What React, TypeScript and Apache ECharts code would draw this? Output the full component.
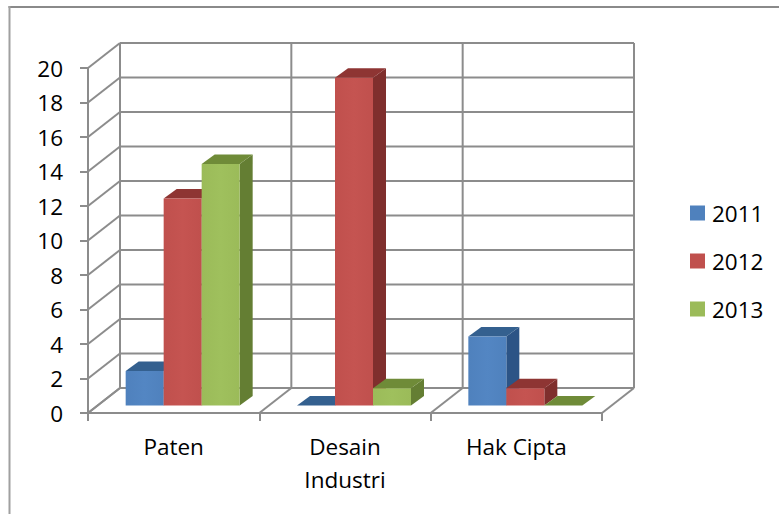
import React, { useEffect, useRef } from "react";
import * as echarts from "echarts";

const categories = ["Paten", "Desain\nIndustri", "Hak Cipta"];
const yTicks = [0, 2, 4, 6, 8, 10, 12, 14, 16, 18, 20];
const seriesNames = ["2011", "2012", "2013"];
const values2011 = [2, 0, 4];
const values2012 = [12, 19, 1];
const values2013 = [14, 1, 0];

const FRONT = ["#4F81BD", "#C0504D", "#9BBB59"];
const LIGHT = ["#5386c3", "#c55451", "#9fc05d"];
const TOP = ["#34608f", "#8e3533", "#6f8b38"];
const SIDE = ["#2c5486", "#7f2f2d", "#647e33"];
const WALL = "#8c8c8c";
const FONT = "'Open Sans', sans-serif";
const FONT_SIZE = 22.5;

// Projection of the floor depth used by the walls and by the bars.
const WALL_DX = 32;
const WALL_DY = -25;
const BAR_W = 38;
const BAR_NEAR = { dx: 9, dy: -7.5 };
const BAR_DX = 13;
const BAR_DY = -9.5;

const line = (x1: number, y1: number, x2: number, y2: number) => ({
  type: "line",
  shape: { x1, y1, x2, y2 },
  style: { stroke: WALL, lineWidth: 2 },
});

// One horizontal gridline: the diagonal on the side wall plus the run along the back wall.
const renderGridline = (params: any, api: any) => {
  const cs = params.coordSys;
  const y = api.coord([0, api.value(1)])[1];
  const x = cs.x;
  return {
    type: "group",
    children: [
      line(x, y, x + WALL_DX, y + WALL_DY),
      line(x + WALL_DX, y + WALL_DY, x + WALL_DX + cs.width, y + WALL_DY),
    ],
  };
};

// Category dividers: one upright on the back wall and one diagonal over the floor.
const renderDivider = (params: any, api: any) => {
  const cs = params.coordSys;
  const band = cs.width / categories.length;
  const idx = api.value(0);
  const bottom = cs.y + cs.height;
  const edges = idx === categories.length - 1 ? [idx, idx + 1] : [idx];
  const children: any[] = [];
  edges.forEach((k: number) => {
    const x = cs.x + k * band;
    children.push(line(x + WALL_DX, cs.y + WALL_DY, x + WALL_DX, bottom + WALL_DY));
    children.push(line(x, bottom, x + WALL_DX, bottom + WALL_DY));
  });
  return { type: "group", children };
};

const renderBar = (s: number) => (params: any, api: any) => {
  const band = api.size([1, 0])[0];
  const gap = (band - BAR_W * seriesNames.length) / 2;
  const cat = api.value(0);
  const base = api.coord([cat, 0]);
  const top = api.coord([cat, api.value(1)]);
  const x0 = base[0] - band / 2 + gap + s * BAR_W + BAR_NEAR.dx;
  const x1 = x0 + BAR_W;
  const yb = base[1] + BAR_NEAR.dy;
  const yt = top[1] + BAR_NEAR.dy;
  const poly = (points: number[][], fill: any) => ({
    type: "polygon",
    shape: { points },
    style: { fill },
  });
  return {
    type: "group",
    children: [
      poly(
        [[x1, yb], [x1 + BAR_DX, yb + BAR_DY], [x1 + BAR_DX, yt + BAR_DY], [x1, yt]],
        SIDE[s],
      ),
      poly(
        [[x0, yt], [x1, yt], [x1 + BAR_DX, yt + BAR_DY], [x0 + BAR_DX, yt + BAR_DY]],
        TOP[s],
      ),
      poly(
        [[x0, yb], [x1, yb], [x1, yt], [x0, yt]],
        new echarts.graphic.LinearGradient(0, 0, 1, 0, [
          { offset: 0, color: FRONT[s] },
          { offset: 0.5, color: LIGHT[s] },
          { offset: 1, color: FRONT[s] },
        ]),
      ),
    ],
  };
};

export default function App() {
  const ref = useRef<HTMLDivElement>(null);
  useEffect(() => {
    const chart = echarts.init(ref.current!, undefined, { renderer: "svg" });
    const rows = [values2011, values2012, values2013];
    chart.setOption({
      animation: false,
      backgroundColor: "#ffffff",
      textStyle: { fontFamily: FONT },
      grid: { left: 88, top: 68, width: 514, height: 345 },
      // Chart frame: only the top and left edges fall inside the page.
      graphic: [
        {
          type: "line",
          silent: true,
          shape: { x1: 8.5, y1: 7, x2: 779, y2: 7 },
          style: { stroke: "#8a8a8a", lineWidth: 2 },
        },
        {
          type: "line",
          silent: true,
          shape: { x1: 9.5, y1: 6, x2: 9.5, y2: 514 },
          style: { stroke: "#a0a0a0", lineWidth: 2 },
        },
      ],
      legend: {
        orient: "vertical",
        left: 685,
        top: 193,
        icon: "rect",
        itemWidth: 15,
        itemHeight: 15,
        itemGap: 18,
        data: seriesNames,
        textStyle: { fontFamily: FONT, fontSize: FONT_SIZE, color: "#000", lineHeight: 30, padding: [0, 0, 0, 2] },
      },
      xAxis: {
        type: "category",
        data: categories,
        axisLine: { lineStyle: { color: WALL, width: 2 } },
        axisTick: { show: true, length: 8, alignWithLabel: false, lineStyle: { color: WALL, width: 2 } },
        axisLabel: { fontFamily: FONT, fontSize: FONT_SIZE, color: "#000", margin: 17, lineHeight: 33, interval: 0 },
      },
      yAxis: {
        type: "value",
        min: 0,
        max: 20,
        interval: 2,
        axisLine: { show: true, lineStyle: { color: WALL, width: 2 } },
        axisTick: { show: true, length: 8, lineStyle: { color: WALL, width: 2 } },
        splitLine: { show: false },
        axisLabel: { fontFamily: FONT, fontSize: FONT_SIZE, color: "#000", margin: 25 },
      },
      series: [
        {
          type: "custom",
          name: "wall-lines",
          renderItem: renderGridline,
          data: yTicks.map((v) => [0, v]),
          encode: { x: 0, y: 1 },
          silent: true,
          z: 1,
        },
        {
          type: "custom",
          name: "wall-dividers",
          renderItem: renderDivider,
          data: categories.map((_, i) => [i, 0]),
          encode: { x: 0, y: 1 },
          silent: true,
          z: 1,
        },
        ...seriesNames.map((name, s) => ({
          type: "custom",
          name,
          renderItem: renderBar(s),
          itemStyle: { color: FRONT[s] },
          data: rows[s].map((v, i) => [i, v]),
          encode: { x: 0, y: 1 },
          z: 3,
        })),
      ],
    });
    return () => chart.dispose();
  }, []);
  return <div ref={ref} style={{ position: "absolute", left: 0, top: 0, width: 779, height: 514 }} />;
}
